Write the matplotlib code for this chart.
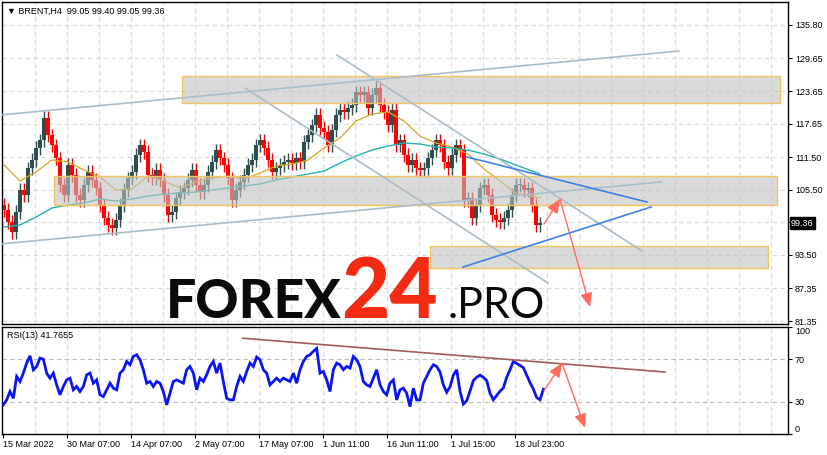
from __future__ import annotations

import matplotlib

matplotlib.use("Agg")

import matplotlib.pyplot as plt
import numpy as np
from matplotlib.patches import Rectangle

W, H = 828, 455

COL = {
    "bull": "#2F4F4F",
    "bear": "#FF0000",
    "ma_fast": "#DAA520",
    "ma_slow": "#20B2AA",
    "channel": "#A9BDC9",
    "blue": "#3C82E6",
    "arrow": "#FF6B5C",
    "rsi": "#0A14F5",
    "rsi_trend": "#A05C5C",
    "zone_fill": (0.76, 0.76, 0.76, 0.6),
    "zone_edge": "#F2C45E",
    "grid": "#DADADA",
}

# ---- data ----
symbol_line = "\u25bc BRENT,H4  99.05 99.40 99.05 99.36"
rsi_line = "RSI(13) 41.7655"
date_ticks = [3, 67, 131, 195, 259, 323, 387, 451, 515]
date_labels = ["15 Mar 2022", "30 Mar 07:00", "14 Apr 07:00", "2 May 07:00",
               "17 May 07:00", "1 Jun 11:00", "16 Jun 11:00", "1 Jul 15:00", "18 Jul 23:00"]
price_ticks = [135.80, 129.65, 123.65, 117.65, 111.50, 105.50, 99.50, 93.50, 87.35, 81.35]
last_price = 99.36

start_open = 102.7
closes = [
    101.77, 99.56, 97.72, 101.40, 105.45, 104.53, 109.49, 110.97, 113.17, 114.64,
    118.69, 115.56, 113.72, 111.33, 106.37, 104.53, 110.05, 108.21, 104.53, 103.61,
    106.37, 108.76, 107.29, 105.81, 102.69, 100.30, 99.01, 98.46, 99.93, 102.69,
    105.45, 107.65, 108.76, 111.89, 113.72, 112.44, 108.21, 107.65, 109.13, 107.29,
    104.53, 100.85, 101.40, 103.97, 105.08, 105.81, 107.29, 109.13, 106.37, 105.08,
    106.37, 108.76, 110.60, 112.80, 111.33, 110.05, 107.65, 103.61, 105.45, 106.92,
    108.21, 110.05, 110.97, 113.72, 114.64, 113.17, 110.97, 108.76, 109.49, 110.05,
    110.60, 110.97, 110.41, 111.33, 110.60, 114.28, 115.56, 117.40, 119.24, 116.85,
    116.12, 113.72, 116.48, 119.24, 120.16, 119.80, 120.53, 121.08, 123.47, 122.92,
    123.47, 120.53, 122.92, 124.21, 121.08, 119.80, 117.40, 120.16, 113.72, 114.64,
    111.89, 110.05, 110.97, 109.49, 109.13, 109.49, 111.33, 112.80, 114.64, 113.72,
    110.60, 109.49, 111.89, 113.72, 112.80, 103.61, 103.97, 100.30, 102.69, 105.81,
    106.37, 104.53, 100.85, 99.93, 99.56, 100.30, 101.77, 104.53, 106.37, 106.37,
    105.45, 105.81, 102.69, 99.01, 99.36,
]

# moving averages, sampled every 4th bar plus the last one
ma_fast = [
    110.05, 107.10, 108.76, 110.97, 110.60, 109.13, 107.84, 105.45, 105.63, 108.02,
    107.10, 105.81, 106.92, 107.65, 108.02, 107.47, 108.57, 109.86, 110.23, 110.97,
    113.17, 115.01, 118.14, 119.43, 119.80, 118.14, 115.38, 114.09, 113.36, 112.07,
    109.31, 107.10, 104.89, 104.34, 103.97,
]
ma_slow = [
    98.64, 99.01, 100.48, 102.14, 102.69, 103.06, 103.79, 103.42, 103.79, 104.34,
    104.71, 104.89, 105.08, 105.45, 105.81, 106.18, 106.55, 107.29, 107.84, 108.39,
    108.94, 110.41, 111.70, 112.80, 113.54, 114.09, 113.91, 113.36, 113.17, 112.80,
    112.07, 111.15, 110.05, 108.94, 108.39,
]

rsi = [
    27.2, 31.9, 39.7, 33.4, 53.8, 49.1, 56.9, 66.3, 73.1, 60.0,
    63.1, 70.9, 70.0, 56.9, 52.2, 56.9, 45.9, 36.6, 44.4, 50.6,
    52.2, 41.3, 44.4, 39.7, 44.4, 55.3, 56.9, 47.5, 50.6, 36.6,
    35.0, 41.3, 47.5, 42.8, 41.3, 56.9, 60.0, 67.8, 64.7, 72.5,
    74.1, 69.4, 60.0, 47.5, 49.1, 44.4, 49.1, 47.5, 39.7, 27.2,
    38.1, 49.1, 50.6, 49.1, 47.5, 60.0, 63.1, 56.9, 41.3, 52.2,
    49.1, 55.3, 63.1, 67.8, 56.9, 66.3, 49.1, 33.4, 31.9, 31.9,
    44.4, 53.8, 49.1, 58.4, 66.3, 63.1, 71.9, 69.4, 60.0, 56.9,
    45.9, 49.1, 52.2, 49.1, 52.2, 50.6, 49.1, 56.9, 47.5, 60.0,
    67.8, 72.5, 74.1, 77.2, 80.0, 56.9, 58.4, 50.6, 39.7, 60.0,
    66.3, 64.7, 60.0, 63.1, 61.6, 72.5, 69.4, 63.1, 49.1, 45.9,
    44.4, 52.2, 60.0, 45.9, 39.7, 36.6, 47.5, 50.6, 31.9, 41.3,
    42.8, 38.1, 25.6, 42.8, 31.9, 31.9, 47.5, 53.8, 60.0, 64.7,
    63.1, 58.0, 46.0, 39.0, 44.0, 55.0, 60.0, 40.0, 28.0, 31.0,
    40.0, 50.0, 53.0, 55.0, 53.0, 50.0, 38.0, 32.0, 36.0, 40.0,
    43.0, 53.0, 60.0, 67.8, 66.0, 64.0, 62.0, 55.0, 48.0, 42.0,
    34.0, 32.0, 41.8,
]

# drawn objects: zones (bar from, bar to, price low, price high)
zones = [(182, 780, 121.45, 126.42), (54, 777, 102.69, 108.02), (430, 768, 91.10, 95.15)]
channel_lines = [((0, 119.24), (679, 131.02)), ((0, 95.51), (661, 106.92)),
                 ((337, 130.28), (642, 94.22)), ((245, 124.21), (548, 88.34))]
blue_lines = [((467, 111.52), (647, 103.24)), ((463, 91.28), (651, 102.32))]
price_arrows = [((544, 99.19), (560, 103.79)), ((560, 103.79), (590, 83.92))]
rsi_trend = ((243, 89.5), (665, 57.9))
rsi_arrows = [((544, 40.2), (562, 66.3)), ((562, 66.3), (585, 5.8))]


def px(x: float, y: float) -> tuple[float, float]:
    return x / W, 1 - y / H


def style_axes(ax) -> None:
    for s in ax.spines.values():
        s.set_color("black")
        s.set_linewidth(1.0)
    ax.set_facecolor("white")


def draw_arrow(ax, start, end) -> None:
    ax.annotate(
        "", xy=end, xytext=start, zorder=6,
        arrowprops=dict(arrowstyle="-|>,head_length=0.7,head_width=0.3", color=COL["arrow"],
                        lw=1.0, shrinkA=0, shrinkB=0, mutation_scale=12),
    )


def main() -> None:
    plt.rcParams["font.family"] = ["Liberation Sans", "DejaVu Sans"]
    plt.rcParams["font.size"] = 6.5

    fig = plt.figure(figsize=(W / 100, H / 100), dpi=100)
    fig.patch.set_facecolor("white")
    ax = fig.add_axes([2 / W, 1 - 324 / H, 786 / W, 322 / H])
    ar = fig.add_axes([2 / W, 1 - 434 / H, 786 / W, 107 / H])
    style_axes(ax)
    style_axes(ar)

    # grids
    for gx in range(35, 788, 32):
        for a in (ax, ar):
            a.axvline(gx, color=COL["grid"], lw=0.8, ls=(0, (4, 3)), zorder=0)
    for p in price_ticks:
        ax.axhline(p, color=COL["grid"], lw=0.8, ls=(0, (4, 3)), zorder=0)
    for r in (30, 70):
        ar.axhline(r, color="#BDBDBD", lw=0.8, ls=(0, (4, 3)), zorder=0)

    # candles
    x = np.arange(1, len(closes) + 1) * 4
    c = np.array(closes)
    o = np.concatenate([[start_open], c[:-1]])
    up = c >= o
    colors = np.where(up, COL["bull"], COL["bear"])
    wick = 1.2
    ax.vlines(x, np.minimum(o, c) - wick, np.maximum(o, c) + wick, colors=colors, lw=1.0, zorder=2)
    ax.bar(x, np.maximum(np.abs(c - o), 0.2), bottom=np.minimum(o, c), width=3.2,
           color=colors, linewidth=0, zorder=2)

    ma_idx = list(range(0, len(closes), 4)) + [len(closes) - 1]
    ax.plot(x[ma_idx], ma_fast, color=COL["ma_fast"], lw=0.9, zorder=2.5)
    ax.plot(x[ma_idx], ma_slow, color=COL["ma_slow"], lw=1.0, zorder=2.5)

    # zones
    for x0, x1, p0, p1 in zones:
        ax.add_patch(Rectangle((x0, p0), x1 - x0, p1 - p0, fc=COL["zone_fill"], ec="none", zorder=3))
        ax.add_patch(Rectangle((x0, p0), x1 - x0, p1 - p0, fill=False, ec=COL["zone_edge"], lw=1.0, zorder=3.2))

    for (x0, p0), (x1, p1) in channel_lines:
        ax.plot([x0, x1], [p0, p1], color=COL["channel"], lw=1.2, zorder=4)
    for (x0, p0), (x1, p1) in blue_lines:
        ax.plot([x0, x1], [p0, p1], color=COL["blue"], lw=1.2, zorder=4)
    for start, end in price_arrows:
        draw_arrow(ax, start, end)

    ax.set_xlim(2, 788)
    ax.set_ylim(80.80, 140.03)
    ax.yaxis.tick_right()
    ax.set_yticks(price_ticks, [("" if p == 99.50 else f"{p:.2f}") for p in price_ticks])
    ax.tick_params(axis="y", direction="out", length=3, width=0.8, pad=2, labelsize=6.5)
    ax.tick_params(axis="x", bottom=False, labelbottom=False)

    # RSI panel
    rx = np.arange(1, len(rsi) + 1) * 10 / 3
    ar.plot(rx, rsi, color=COL["rsi"], lw=2.0, zorder=3, solid_joinstyle="miter")
    (x0, r0), (x1, r1) = rsi_trend
    ar.plot([x0, x1], [r0, r1], color=COL["rsi_trend"], lw=1.2, zorder=4)
    for start, end in rsi_arrows:
        draw_arrow(ar, start, end)
    ar.set_xlim(2, 788)
    ar.set_ylim(0, 100)
    ar.yaxis.tick_right()
    ar.set_yticks([0, 30, 70, 100], ["0", "30", "70", "100"])
    ylabels = ar.get_yticklabels()
    ylabels[0].set_va("bottom")
    ylabels[3].set_va("top")
    ar.tick_params(axis="y", direction="out", length=3, width=0.8, pad=2, labelsize=6.5)
    ar.set_xticks(date_ticks, date_labels)
    for lbl in ar.get_xticklabels():
        lbl.set_ha("left")
    ar.tick_params(axis="x", direction="out", length=3, width=0.8, pad=1.5, labelsize=6.5)

    # texts
    fig.text(*px(7, 11), symbol_line, fontsize=6.5, va="center", ha="left")
    fig.text(*px(7, 335), rsi_line, fontsize=6.5, va="center", ha="left")
    fig.text(*px(791, 223), f"{last_price:.2f}", fontsize=6.5, color="white", va="center", ha="left",
             bbox=dict(boxstyle="square,pad=0.15", fc="black", ec="black"))

    # watermark
    fig.text(*px(166, 318), "FOREX", fontsize=38.5, fontweight="black", color="#0A0A0A",
             family=["Lato", "DejaVu Sans"], va="baseline", ha="left", zorder=1)
    fig.text(*px(341, 318), "24", fontsize=60, fontweight="black", color="#F22B12",
             family=["Lato", "DejaVu Sans"], va="baseline", ha="left", zorder=1)
    fig.text(*px(448, 318), ".PRO", fontsize=31, fontweight="normal", color="#0A0A0A",
             family=["Lato", "DejaVu Sans"], va="baseline", ha="left", zorder=1)

    fig.savefig("out.png", dpi=100, facecolor="white")
    plt.close(fig)


if __name__ == "__main__":
    main()
